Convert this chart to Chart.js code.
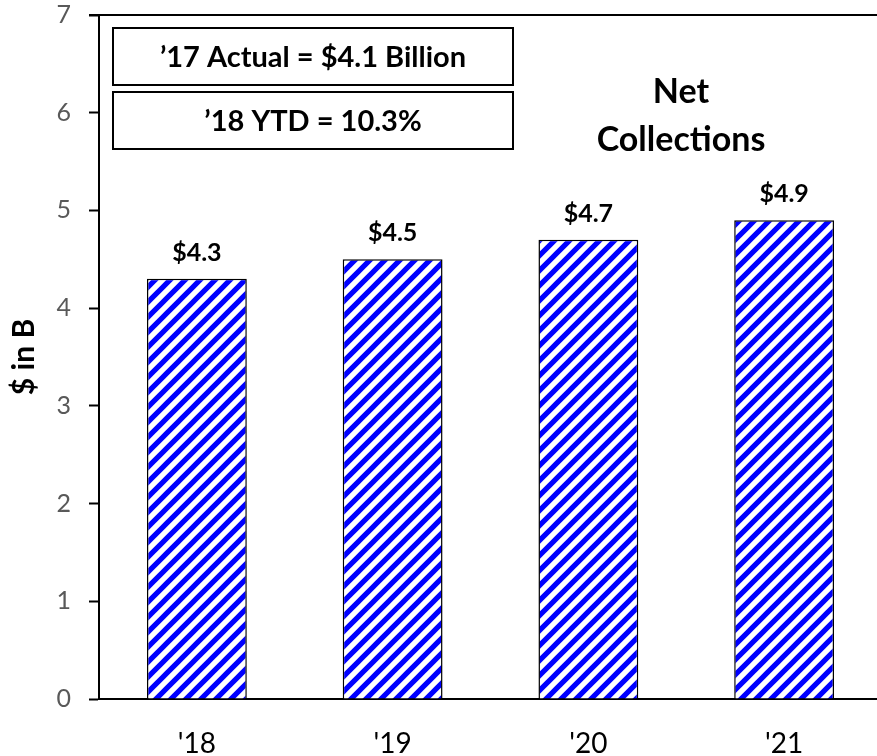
<!DOCTYPE html>
<html>
<head>
<meta charset="utf-8">
<script src="https://cdn.jsdelivr.net/npm/chart.js@4/dist/chart.umd.min.js"></script>
<style>
  html, body { margin: 0; padding: 0; background: #fff; overflow: hidden; }
  #wrap { width: 877px; height: 756px; overflow: hidden; }
  #wrap canvas { display: block; }
</style>
</head>
<body>
<div id="wrap"><canvas id="netChart" width="882" height="756"></canvas></div>
<script>
const years = ["'18", "'19", "'20", "'21"];
const netCollections = [4.3, 4.5, 4.7, 4.9];
const valueLabels = ["$4.3", "$4.5", "$4.7", "$4.9"];
const infoLines = ["\u201917 Actual = $4.1 Billion", "\u201918 YTD = 10.3%"];
const titleLines = ["Net", "Collections"];

const FONT = "Lato, 'Open Sans', sans-serif";

// blue "/" stripes
function stripePattern() {
    const s = 15;
    const tile = document.createElement("canvas");
    tile.width = s;
    tile.height = s;
    const c = tile.getContext("2d");
    c.fillStyle = "#fff";
    c.fillRect(0, 0, s, s);
    c.strokeStyle = "#0000ff";
    c.lineWidth = 5.2;
    c.beginPath();
    c.moveTo(-2, 2); c.lineTo(2, -2);
    c.moveTo(-1, s + 1); c.lineTo(s + 1, -1);
    c.moveTo(s - 2, s + 2); c.lineTo(s + 2, s - 2);
    c.stroke();
    return c.createPattern(tile, "repeat");
}

const extras = {
    id: "extras",
    afterDraw(chart) {
        const ctx = chart.ctx;
        const area = chart.chartArea;
        ctx.save();

        // top frame line
        ctx.strokeStyle = "#000";
        ctx.lineWidth = 2;
        ctx.beginPath();
        ctx.moveTo(area.left - 10, area.top);
        ctx.lineTo(chart.width, area.top);
        ctx.stroke();

        // value labels above the bars
        ctx.fillStyle = "#000";
        ctx.font = "bold 25px " + FONT;
        ctx.textAlign = "center";
        ctx.textBaseline = "middle";
        chart.getDatasetMeta(0).data.forEach((bar, i) => {
            ctx.fillText(valueLabels[i], bar.x, bar.y - 26);
        });

        // info boxes
        const bx = area.left + 14, bw = 400, bh = 57;
        ctx.lineWidth = 2;
        ctx.font = "bold 29px " + FONT;
        infoLines.forEach((t, i) => {
            const by = area.top + 13 + i * 64;
            ctx.strokeRect(bx, by, bw, bh);
            ctx.fillText(t, bx + bw / 2, by + bh / 2 + 1);
        });

        // title
        ctx.font = "bold 34px " + FONT;
        titleLines.forEach((t, i) => {
            ctx.fillText(t, 681, 92 + i * 48);
        });
        ctx.restore();
    }
};

new Chart(document.getElementById("netChart"), {
    type: "bar",
    data: {
        labels: years,
        datasets: [{
            data: netCollections,
            backgroundColor: stripePattern(),
            borderColor: "#000",
            borderWidth: 1.5,
            categoryPercentage: 1,
            barPercentage: 0.51
        }]
    },
    options: {
        responsive: false,
        animation: false,
        layout: { padding: { top: 15, right: 0, left: 0, bottom: 0 } },
        plugins: {
            legend: { display: false },
            tooltip: { enabled: false }
        },
        scales: {
            x: {
                grid: { display: false },
                border: { color: "#000", width: 2 },
                ticks: { color: "#000", font: { family: FONT, size: 28 }, padding: 20 },
                afterFit(scale) { scale.height = 57; }
            },
            y: {
                min: 0,
                max: 7,
                grid: {
                    drawOnChartArea: false,
                    drawTicks: true,
                    tickLength: 10,
                    tickWidth: 2,
                    tickColor: "#000"
                },
                border: { color: "#000", width: 2 },
                ticks: {
                    stepSize: 1,
                    color: "#595959",
                    font: { family: FONT, size: 25 },
                    padding: 18
                },
                title: {
                    display: true,
                    text: "$ in B",
                    color: "#000",
                    font: { family: FONT, size: 30, weight: "bold" },
                    padding: { top: 6, bottom: 0 }
                },
                afterFit(scale) {
                    scale.width = 99;
                    scale.paddingTop = 0;
                    scale.paddingBottom = 0;
                }
            }
        }
    },
    plugins: [extras]
});
</script>
</body>
</html>
